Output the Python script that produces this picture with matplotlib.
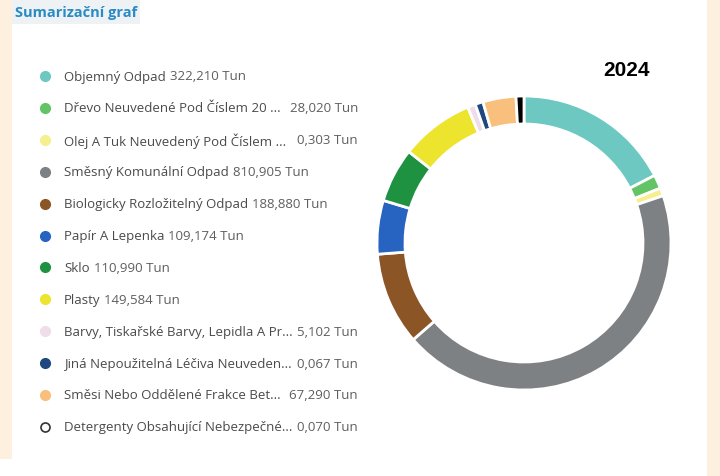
import numpy as np
import matplotlib.pyplot as plt
from matplotlib.patches import Rectangle

plt.rcParams['font.family'] = ['Open Sans', 'DejaVu Sans']

# data (Tun), legend order = slice order (clockwise from 12 o'clock)
names = [
    "Objemný Odpad",
    "Dřevo Neuvedené Pod Číslem 20 ...",
    "Olej A Tuk Neuvedený Pod Číslem ...",
    "Směsný Komunální Odpad",
    "Biologicky Rozložitelný Odpad",
    "Papír A Lepenka",
    "Sklo",
    "Plasty",
    "Barvy, Tiskařské Barvy, Lepidla A Pr...",
    "Jiná Nepoužitelná Léčiva Neuveden...",
    "Směsi Nebo Oddělené Frakce Bet...",
    "Detergenty Obsahující Nebezpečné...",
]
values = [322.210, 28.020, 0.303, 810.905, 188.880, 109.174,
          110.990, 149.584, 5.102, 0.067, 67.290, 0.070]
colors = ["#6cc8c1", "#62c465", "#f6ef8e", "#7e8183", "#8b5526", "#2763c0",
          "#1f9242", "#ede42e", "#efdde9", "#1f487e", "#f9bf7d", "#000000"]
year = "2024"
title = "Sumarizační graf"

W, H = 720, 477
fig = plt.figure(figsize=(W / 100, H / 100), dpi=100)
fig.patch.set_facecolor("white")

canvas = fig.add_axes([0, 0, 1, 1])
canvas.set_xlim(0, W)
canvas.set_ylim(H, 0)
canvas.axis("off")

# page frame
canvas.add_patch(Rectangle((0, 0), 12, 460, color="#fdf0df", lw=0))
canvas.add_patch(Rectangle((707, 0), 13, H, color="#fdf0df", lw=0))
canvas.add_patch(Rectangle((12, 0), 128, 25, color="#eef2f5", lw=0))

canvas.text(15, 13, title, color="#2a8bc2", fontsize=10.5, fontweight="bold",
            va="center", ha="left")
canvas.text(627, 71, year, color="black", fontsize=15, fontweight="bold",
            va="center", ha="center", family=["Liberation Sans", "DejaVu Sans"])

# legend
renderer = fig.canvas.get_renderer()
inv = canvas.transData.inverted()
y0, dy = 77, 31.9
for i, (n, v, c) in enumerate(zip(names, values, colors)):
    y = y0 + i * dy
    if c == "#000000":
        canvas.plot(45, y, "o", ms=6.5, mfc="white", mec="#333333", mew=1.2)
    else:
        canvas.plot(45, y, "o", ms=7, color=c, mec=c)
    t = canvas.text(64, y, n, color="#4a4a4a", fontsize=9.5, va="center", ha="left")
    val = f"{v:.3f}".replace(".", ",") + " Tun"
    if n.endswith("..."):
        canvas.text(358, y, val, color="#5e5e5e", fontsize=9.5, va="center", ha="right")
    else:
        x1 = inv.transform((t.get_window_extent(renderer).x1, 0))[0]
        canvas.text(x1 + 4, y, val, color="#5e5e5e", fontsize=9.5, va="center", ha="left")

# donut
cx, cy, r_out, r_in = 524, 244, 147, 119
half = 152
ax = fig.add_axes([(cx - half) / W, (H - cy - half) / H, 2 * half / W, 2 * half / H])
shown = np.maximum(np.array(values), 0.009 * sum(values))  # tiny slices stay visible
ax.pie(shown, colors=colors, startangle=90, counterclock=False, radius=1,
       wedgeprops=dict(width=(r_out - r_in) / r_out, edgecolor="white", linewidth=2))
lim = half / r_out
ax.set_xlim(-lim, lim)
ax.set_ylim(-lim, lim)
ax.set_aspect("equal")
ax.axis("off")

fig.savefig("out.png", dpi=100)
